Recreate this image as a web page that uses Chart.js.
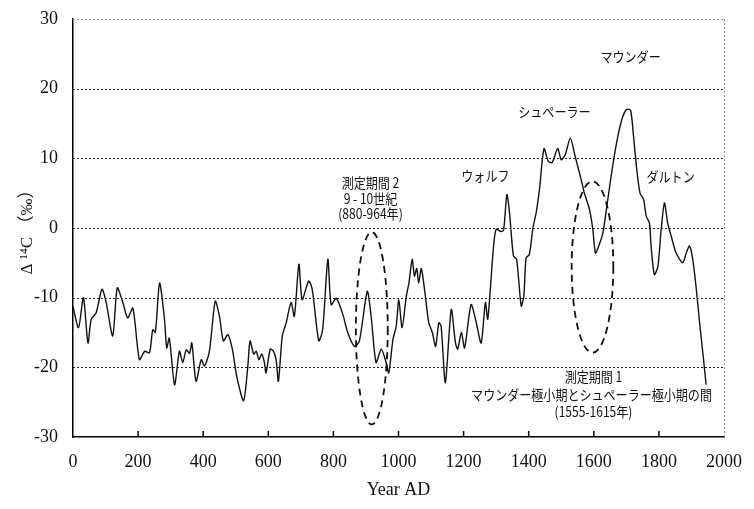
<!DOCTYPE html>
<html>
<head>
<meta charset="utf-8">
<script src="https://cdn.jsdelivr.net/npm/chart.js@4.4.0/dist/chart.umd.min.js"></script>
<style>
html, body { margin: 0; padding: 0; background: #fff; }
</style>
</head>
<body>
<canvas id="c14" width="754" height="509"></canvas>
<script>
// 年代 (AD) と Δ14C (‰)
const years = [
  0, 17, 32, 46, 56, 71, 89, 102, 122, 136, 153, 168, 184, 204, 220, 235, 245, 253, 266, 281,
  288, 296, 312, 327, 337, 348, 358, 365, 378, 394, 404, 419, 437, 450, 462, 476, 490, 503, 524, 537,
  544, 555, 563, 571, 580, 588, 593, 606, 616, 624, 631, 643, 655, 670, 680, 694, 704, 724, 735, 755,
  767, 783, 793, 809, 829, 844, 865, 880, 904, 916, 931, 947, 962, 970, 983, 993, 1001, 1011, 1024, 1032,
  1042, 1049, 1056, 1062, 1070, 1080, 1093, 1104, 1114, 1124, 1131, 1144, 1162, 1175, 1182, 1193, 1203, 1223, 1239, 1254,
  1267, 1274, 1282, 1292, 1300, 1315, 1323, 1333, 1341, 1353, 1363, 1377, 1385, 1392, 1402, 1413, 1423, 1433, 1447, 1460,
  1472, 1489, 1500, 1512, 1528, 1541, 1556, 1566, 1571, 1587, 1597, 1605, 1615, 1628, 1643, 1658, 1674, 1689, 1701, 1713,
  1722, 1732, 1742, 1753, 1761, 1771, 1776, 1786, 1797, 1807, 1817, 1827, 1838, 1853, 1873, 1884, 1894, 1904, 1915, 1925,
  1935, 1945
];
const delta14C = [
  -11.3, -14.3, -10.0, -16.5, -13.1, -12.2, -8.8, -10.7, -15.5, -8.6, -10.7, -12.9, -11.5, -18.9, -17.7, -17.9, -14.6, -15.0, -7.9, -13.1,
  -17.2, -15.8, -22.5, -17.7, -19.3, -17.5, -18.0, -16.5, -22.0, -18.9, -19.8, -17.7, -10.5, -12.7, -16.2, -15.3, -17.5, -21.3, -24.8, -19.9,
  -16.2, -18.1, -17.7, -18.9, -18.1, -19.3, -20.8, -17.4, -17.7, -18.9, -22.0, -15.5, -13.6, -10.7, -12.7, -5.2, -10.3, -7.6, -8.8, -16.2,
  -14.6, -4.5, -11.0, -10.1, -12.4, -15.0, -17.0, -16.2, -9.1, -12.7, -19.3, -17.4, -19.3, -20.8, -16.0, -14.1, -10.3, -14.3, -9.8, -7.9,
  -4.5, -6.9, -5.8, -7.9, -5.8, -8.8, -13.6, -15.0, -17.0, -13.6, -14.1, -22.2, -11.7, -16.5, -17.4, -15.0, -17.2, -11.0, -13.6, -16.5,
  -10.7, -13.1, -8.8, -2.6, -0.2, -0.5, -0.3, 4.8, 2.2, -4.0, -4.5, -11.2, -9.8, -4.3, -3.8, 0.0, 2.2, 5.5, 11.4, 9.6,
  9.4, 11.4, 9.8, 10.5, 12.9, 10.6, 7.9, 6.0, 5.0, 2.6, -0.2, -3.6, -2.6, -0.7, 4.1, 8.9, 13.2, 16.0, 17.0, 16.9,
  13.2, 8.4, 5.0, 4.1, 1.7, 0.7, -2.6, -6.7, -5.5, -0.2, 3.6, 0.7, -1.2, -3.6, -5.0, -3.6, -2.6, -4.5, -8.8, -13.6,
  -17.9, -22.5
];
const xTicks = [0, 200, 400, 600, 800, 1000, 1200, 1400, 1600, 1800, 2000];
const yTicks = [-30, -20, -10, 0, 10, 20, 30];

// 注記 (年, 値)
const notes = [
  { x: 914, y: 6.5, text: '測定期間 2' },
  { x: 914, y: 4.2, text: '9 - 10世紀' },
  { x: 914, y: 2.1, text: '(880-964年)' },
  { x: 1267, y: 7.5, text: 'ウォルフ' },
  { x: 1479, y: 16.7, text: 'シュペーラー' },
  { x: 1713, y: 24.6, text: 'マウンダー' },
  { x: 1836, y: 7.4, text: 'ダルトン' },
  { x: 1599, y: -21.3, text: '測定期間 1' },
  { x: 1593, y: -23.9, text: 'マウンダー極小期とシュペーラー極小期の間' },
  { x: 1599, y: -26.3, text: '(1555-1615年)' }
];
const ellipses = [
  { x: 918, y: -14.4, rx: 49, ry: 13.8 },
  { x: 1596, y: -5.6, rx: 64, ry: 12.3 }
];

const serif = '"Liberation Serif", "Times New Roman", serif';

const extras = {
  id: 'extras',
  beforeDatasetsDraw(chart) {
    const { ctx, chartArea: a, scales: { x, y } } = chart;
    ctx.save();
    ctx.lineWidth = 1;
    ctx.setLineDash([2, 2]);
    yTicks.forEach(v => {
      if (v === -30) return;
      const py = Math.round(y.getPixelForValue(v)) + 0.5;
      ctx.strokeStyle = v === 30 ? '#9a9a9a' : '#222';
      ctx.beginPath(); ctx.moveTo(a.left, py); ctx.lineTo(a.right, py); ctx.stroke();
    });
    const rx = Math.round(a.right) + 0.5;
    ctx.strokeStyle = '#9a9a9a';
    ctx.beginPath(); ctx.moveTo(rx, a.top); ctx.lineTo(rx, a.bottom); ctx.stroke();
    ctx.restore();
  },
  afterDatasetsDraw(chart) {
    const { ctx, scales: { x, y } } = chart;
    ctx.save();
    // 内向きの目盛り
    ctx.strokeStyle = '#000';
    ctx.lineWidth = 1.5;
    xTicks.forEach(t => {
      if (t === 0 || t === 2000) return;
      const px = x.getPixelForValue(t);
      ctx.beginPath(); ctx.moveTo(px, y.bottom); ctx.lineTo(px, y.bottom - 6); ctx.stroke();
    });
    // 点線の楕円
    ctx.setLineDash([7, 5]);
    ctx.lineWidth = 1.8;
    ctx.strokeStyle = '#111';
    ellipses.forEach(e => {
      const cx = x.getPixelForValue(e.x), cy = y.getPixelForValue(e.y);
      const rX = Math.abs(x.getPixelForValue(e.x + e.rx) - cx);
      const rY = Math.abs(y.getPixelForValue(e.y + e.ry) - cy);
      ctx.beginPath(); ctx.ellipse(cx, cy, rX, rY, 0, 0, Math.PI * 2); ctx.stroke();
    });
    ctx.setLineDash([]);
    // 文字
    ctx.fillStyle = '#111';
    ctx.font = '14px "Noto Sans CJK JP", sans-serif';
    ctx.textAlign = 'center';
    ctx.textBaseline = 'middle';
    notes.forEach(n => {
      ctx.save();
      ctx.translate(x.getPixelForValue(n.x), y.getPixelForValue(n.y));
      ctx.scale(0.86, 1);
      ctx.fillText(n.text, 0, 0);
      ctx.restore();
    });
    ctx.restore();
  }
};

new Chart(document.getElementById('c14'), {
  type: 'line',
  data: {
    datasets: [{
      data: years.map((yr, i) => ({ x: yr, y: delta14C[i] })),
      borderColor: '#111',
      borderWidth: 1.4,
      pointRadius: 0,
      tension: 0.25,
      fill: false
    }]
  },
  options: {
    responsive: false,
    animation: false,
    layout: { padding: { left: 0, right: 30, top: 19, bottom: 0 } },
    plugins: { legend: { display: false }, tooltip: { enabled: false } },
    scales: {
      x: {
        type: 'linear',
        min: 0,
        max: 2000,
        afterBuildTicks: s => { s.ticks = xTicks.map(v => ({ value: v })); },
        afterFit: s => { s.height = 72; s.paddingLeft = 0; s.paddingRight = 0; },
        grid: { display: false, drawTicks: false },
        border: { display: true, color: '#000', width: 1.5 },
        ticks: { padding: 14, color: '#111', font: { family: serif, size: 18 }, callback: v => String(v) },
        title: { display: true, text: 'Year AD', color: '#111', font: { family: serif, size: 18 }, padding: { top: 0, bottom: 8 } }
      },
      y: {
        min: -30,
        max: 30,
        afterBuildTicks: s => { s.ticks = yTicks.map(v => ({ value: v })); },
        afterFit: s => { s.width = 73; s.paddingTop = 0; s.paddingBottom = 0; },
        grid: { display: false, drawTicks: false },
        border: { display: true, color: '#000', width: 1.5 },
        ticks: { padding: 15, color: '#111', font: { family: serif, size: 18 }, callback: v => String(v) },
        title: { display: true, text: 'Δ ¹⁴C （‰）', color: '#111', font: { family: serif + ', "Noto Sans CJK JP"', size: 17 }, padding: { top: 17, bottom: 0 } }
      }
    }
  },
  plugins: [extras]
});
</script>
</body>
</html>
